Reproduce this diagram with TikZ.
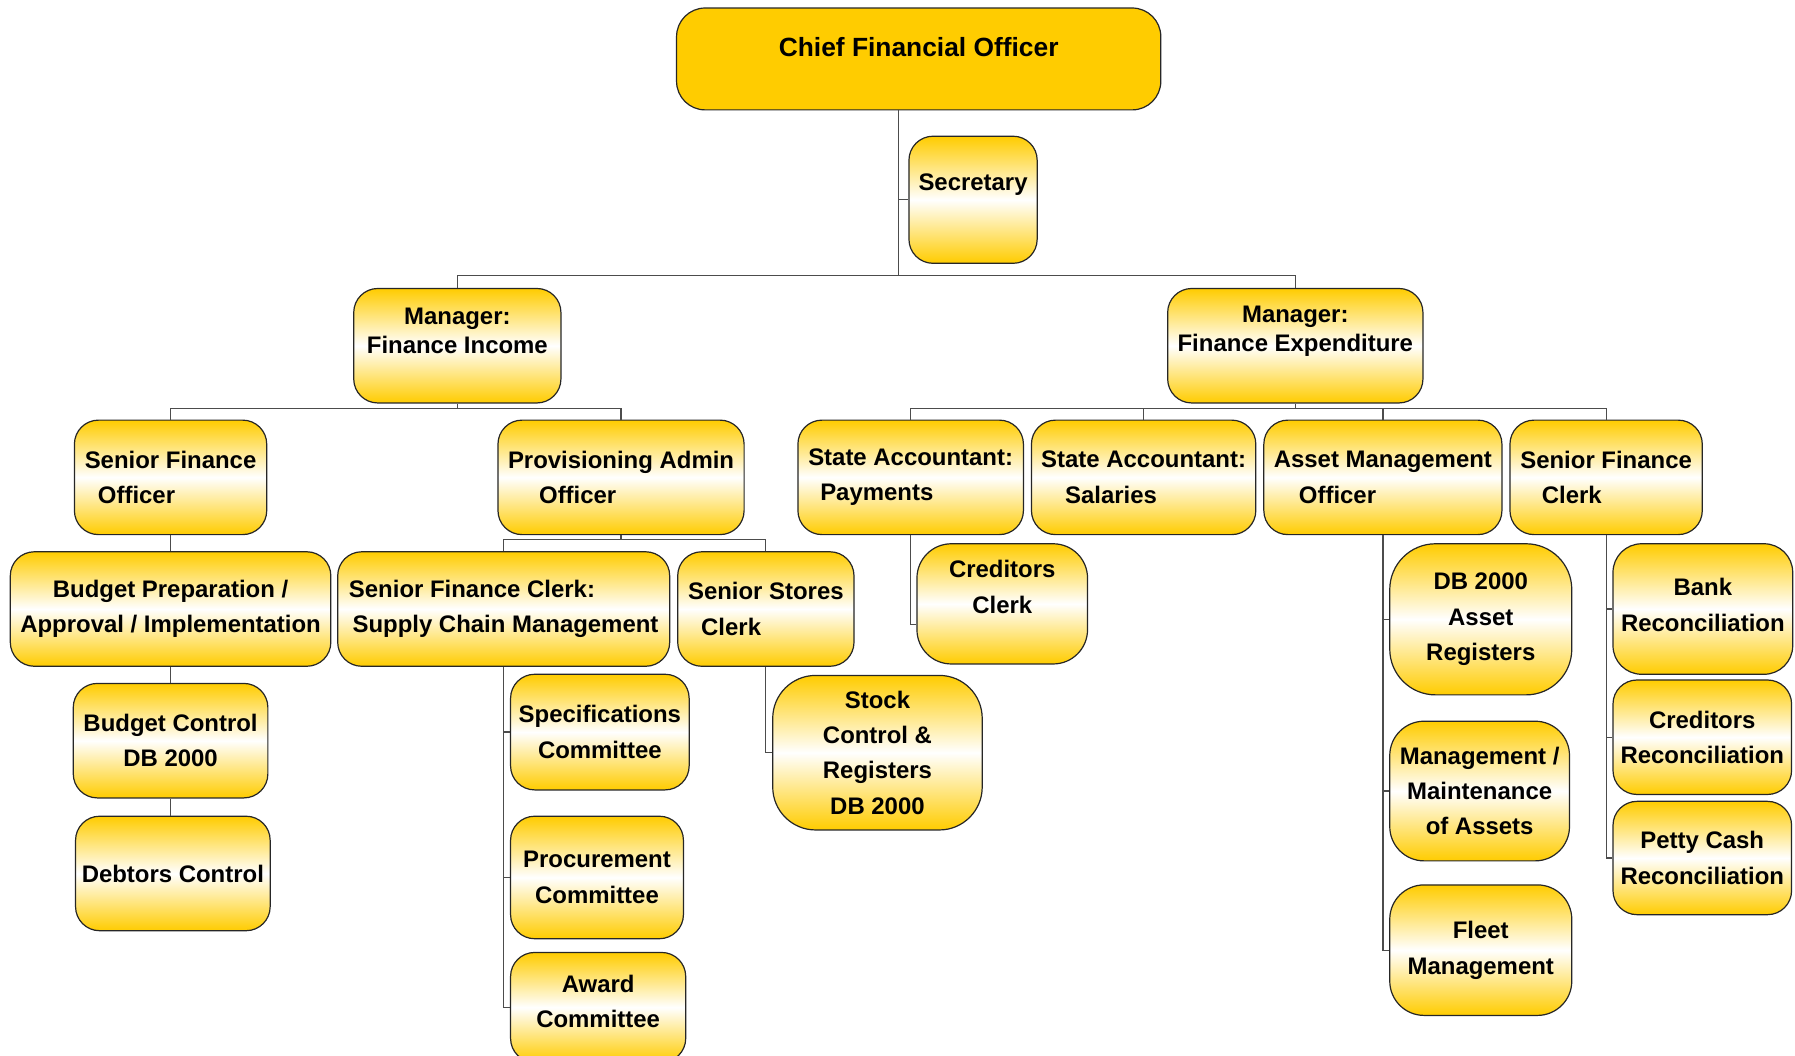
\documentclass[tikz,border=0pt]{standalone}
\usepackage{fontspec}
\setmainfont{Liberation Sans}

\definecolor{gold}{RGB}{255,204,0}

\tikzset{
  card/.style={draw=black!85, line width=0.6pt, rounded corners=0.42cm,
    top color=gold, bottom color=gold, middle color=white,
    inner sep=0pt, align=center,
    font=\bfseries\fontsize{11.9pt}{17.6pt}\selectfont},
  chief/.style={draw=black!85, line width=0.6pt, rounded corners=0.5cm,
    fill=gold, inner sep=0pt,
    font=\bfseries\fontsize{13.1pt}{16pt}\selectfont},
  boss/.style={card, font=\bfseries\fontsize{11.9pt}{14.4pt}\selectfont},
  boxsize/.style 2 args={minimum width=#1*0.02cm, minimum height=#2*0.02cm},
  link/.style={draw=black!70, line width=0.6pt}
}

\begin{document}
\begin{tikzpicture}[x=0.02cm, y=-0.02cm]
\useasboundingbox (0,0) rectangle (1568,922);

% top of the chart
\node[chief, boxsize={423}{89}, text depth=12pt] (cfo) at (802.5,51.5) {Chief Financial Officer};
\node[card, boxsize={112}{111}, text depth=18pt] (sec) at (850,174.5) {Secretary};

% managers
\node[boss, boxsize={181}{100}, text depth=15pt] (mfi) at (399.5,302) {Manager:\\Finance Income};
\node[boss, boxsize={223}{100}, text depth=17pt] (mfe) at (1131.5,302) {Manager:\\Finance Expenditure};

% officers and clerks under the managers
\node[card, boxsize={168}{100}, align=left] (sfo) at (149,417) {Senior Finance\\\hspace*{0.55em}Officer};
\node[card, boxsize={215}{100}, align=left] (pao) at (542.5,417) {Provisioning Admin\\\hspace*{1.3em}Officer};
\node[card, boxsize={197}{100}, align=left] (sap) at (795.5,417) {State Accountant:\\\hspace*{0.5em}Payments};
\node[card, boxsize={196}{100}, align=left] (sas) at (999,417) {State Accountant:\\\hspace*{1em}Salaries};
\node[card, boxsize={208}{100}, align=left] (amo) at (1208,417) {Asset Management\\\hspace*{1.05em}Officer};
\node[card, boxsize={168}{100}, align=left] (sfc) at (1403,417) {Senior Finance\\\hspace*{0.9em}Clerk};

% finance income side
\node[card, boxsize={280}{100}] (bpa) at (149,532) {Budget Preparation /\\Approval / Implementation};
\node[card, boxsize={170}{100}] (bcd) at (149,647) {Budget Control\\DB 2000};
\node[card, boxsize={170}{100}] (debt) at (151,763) {Debtors Control};
\node[card, boxsize={290}{100}, align=left] (scm) at (440,532) {Senior Finance Clerk:\\\hspace*{0.15em}Supply Chain Management};
\node[card, boxsize={154}{100}, align=left] (ssc) at (669,532) {Senior Stores\\\hspace*{0.55em}Clerk};
\node[card, boxsize={156}{101}] (spec) at (524,639.5) {Specifications\\Committee};
\node[card, boxsize={151}{107}] (proc) at (521.5,766.5) {Procurement\\Committee};
\node[card, boxsize={153}{96}, text depth=6pt] (award) at (522.5,880) {Award\\Committee};
\node[card, boxsize={183}{135}, rounded corners=0.75cm] (stock) at (766.5,657.5) {Stock\\Control \&\\Registers\\DB 2000};

% finance expenditure side
\node[card, boxsize={149}{105}, rounded corners=0.6cm, text depth=17pt] (crc) at (875.5,527.5) {Creditors\\Clerk};
\node[card, boxsize={159}{132}, rounded corners=0.8cm] (dbr) at (1293.5,541) {DB 2000\\Asset\\Registers};
\node[card, boxsize={157}{122}, rounded corners=0.6cm] (mma) at (1292.5,691) {Management /\\Maintenance\\of Assets};
\node[card, boxsize={159}{114}, rounded corners=0.6cm] (fleet) at (1293.5,830) {Fleet\\Management};
\node[card, boxsize={157}{114}, rounded corners=0.5cm, text depth=4pt] (bank) at (1487.5,532) {Bank\\Reconciliation};
\node[card, boxsize={156}{100}] (crr) at (1487,644) {Creditors\\Reconciliation};
\node[card, boxsize={156}{99}] (petty) at (1487,749.5) {Petty Cash\\Reconciliation};

% connectors
\coordinate (cfobus) at (785,241);
\draw[link] (cfo.south -| cfobus) -- (cfobus);
\draw[link] (sec.west) -- (sec.west -| cfobus);
\draw[link] (mfi.north) |- (cfobus) -| (mfe.north);

\draw[link] (mfi.south) -- ++(0,4) coordinate (fibus);
\draw[link] (sfo.north) |- (fibus) -| (pao.north);

\draw[link] (mfe.south) -- ++(0,4) coordinate (febus);
\draw[link] (sap.north) |- (febus) -| (sfc.north);
\foreach \n in {sas,amo}
\draw[link] (\n.north) -- (\n.north |- febus);

\draw[link] (sfo.south) -- (bpa.north);
\draw[link] (bpa.south) -- (bcd.north);
\draw[link] (bcd.south) -- (bcd.south |- debt.north);

\draw[link] (pao.south) -- ++(0,4) coordinate (pabus);
\draw[link] (scm.north) |- (pabus) -| (ssc.north);
\foreach \n in {spec,proc,award}
\draw[link] (scm.south) |- (\n.west);
\draw[link] (ssc.south) |- (stock.west);

\draw[link] (sap.south) |- ([yshift=-0.36cm]crc.west);
\foreach \n in {dbr,mma,fleet}
\draw[link] (amo.south) |- (\n.west);
\foreach \n in {bank,crr,petty}
\draw[link] (sfc.south) |- (\n.west);

\end{tikzpicture}
\end{document}
